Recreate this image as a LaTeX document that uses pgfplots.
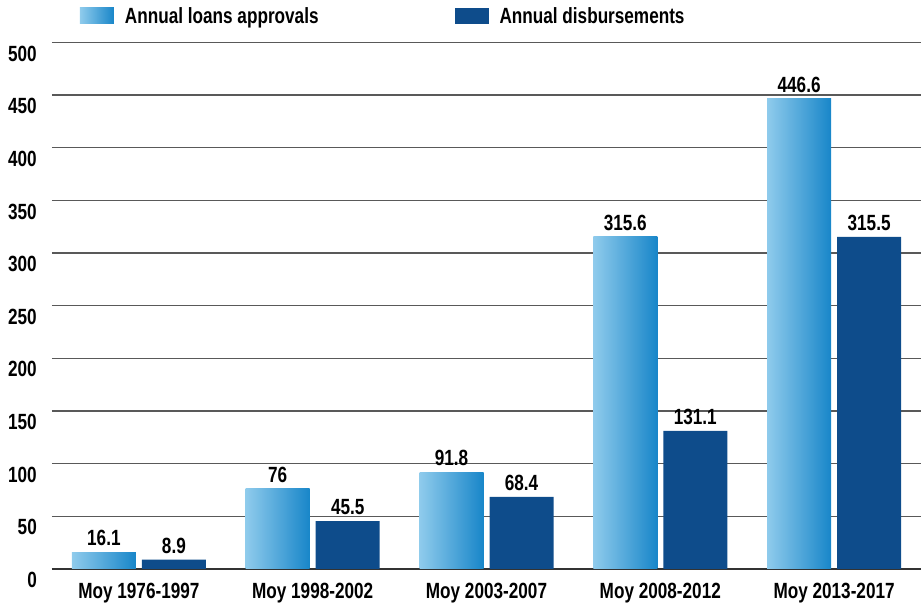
\documentclass[border=0pt]{standalone}
\usepackage{fontspec}
\setmainfont{Liberation Sans}[FakeStretch=0.78]
\usepackage{pgfplots}
\pgfplotsset{compat=1.18}
\definecolor{gradL}{RGB}{143,203,236}
\definecolor{gradR}{RGB}{24,134,201}
\definecolor{darkbar}{RGB}{14,76,139}
\newcommand{\lbl}{\fontsize{22bp}{24bp}\selectfont\bfseries}
\pgfplotsset{
  sqlegend/.style={legend image code/.code={\draw[##1,/tikz/.cd,draw=none] (0bp,-8bp) rectangle (34bp,8bp);}},
  appr/.style={ybar, bar width=64bp, bar shift=-35bp, draw=none, left color=gradL, right color=gradR,
    every node near coord/.append style={xshift=-35bp}},
  disb/.style={ybar, bar width=64bp, bar shift=35bp, draw=none, fill=darkbar,
    every node near coord/.append style={xshift=35bp}},
}
\begin{document}
\begin{tikzpicture}
\useasboundingbox (-52bp,-40bp) rectangle (869bp,569bp);
\begin{axis}[
  at={(0,0)}, anchor=south west,
  scale only axis, width=869bp, height=526.5bp,
  xmin=-0.5, xmax=4.5, ymin=0, ymax=500,
  xtick={0,1,2,3,4},
  xticklabels={Moy 1976-1997, Moy 1998-2002, Moy 2003-2007, Moy 2008-2012, Moy 2013-2017},
  ytick={0,50,...,500},
  axis x line*=bottom, axis y line*=left,
  y axis line style={draw=none},
  x axis line style={draw=black!80, line width=2.5bp},
  ymajorgrids, grid style={draw=black!65, line width=1.4bp},
  major tick length=0pt, tick style={draw=none},
  /pgf/number format/assume math mode=true,
  tick label style={font=\lbl, text=black},
  yticklabel style={anchor=north east, inner sep=0pt, xshift=-15bp, yshift=-3bp},
  xticklabel style={anchor=north, inner sep=0pt, yshift=-14bp},
  nodes near coords,
  nodes near coords style={font=\lbl, text=black, anchor=south, inner sep=0pt, yshift=6bp,
    /pgf/number format/fixed, /pgf/number format/precision=1},
  legend columns=2,
  legend style={draw=none, fill=none, inner sep=0pt, outer sep=0pt,
    at={(0,1)}, anchor=west, xshift=28bp, yshift=26.5bp, font=\lbl,
    nodes={inner sep=0pt},
    /tikz/every odd column/.append style={column sep=11bp},
    /tikz/every even column/.append style={column sep=136bp}},
]
% Annual loans approvals: one bar per plot so each bar carries its own gradient
\addplot[appr, sqlegend] coordinates {(0,16.1)};
\addlegendentry{Annual loans approvals}
\addplot[appr, forget plot] coordinates {(1,76)};
\addplot[appr, forget plot] coordinates {(2,91.8)};
\addplot[appr, forget plot] coordinates {(3,315.6)};
\addplot[appr, forget plot] coordinates {(4,446.6)};
% Annual disbursements
\addplot[disb, sqlegend]
  coordinates {(0,8.9) (1,45.5) (2,68.4) (3,131.1) (4,315.5)};
\addlegendentry{Annual disbursements}
\end{axis}
\end{tikzpicture}
\end{document}
